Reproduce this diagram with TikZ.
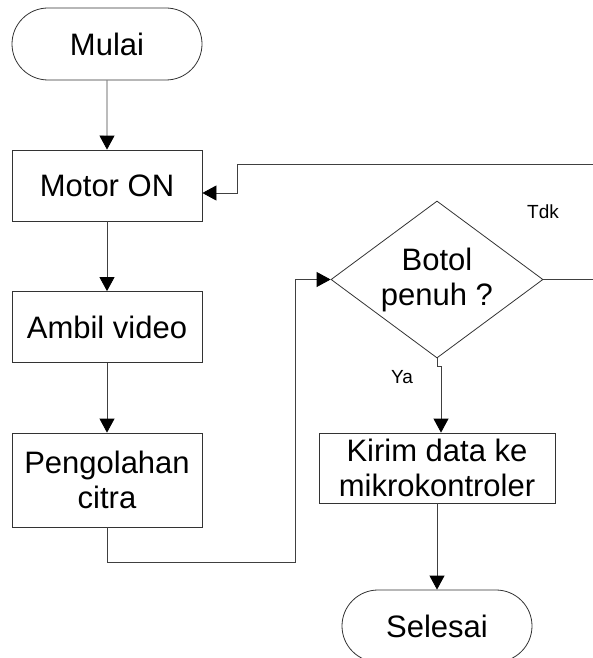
\documentclass[tikz,border=0pt]{standalone}
\usepackage{fontspec}
\setmainfont{Liberation Sans}
\usetikzlibrary{shapes.geometric,shapes.misc,arrows.meta}

\tikzset{
	teks/.style={font=\fontsize{31}{35}\selectfont},
	proses/.style={teks, draw=black!80, rectangle, minimum width=190pt, minimum height=71pt, inner sep=0pt, align=center},
	terminal/.style={teks, draw=black!80, rounded rectangle, minimum width=190pt, minimum height=72pt, inner sep=0pt},
	keputusan/.style={teks, draw=black!80, diamond, aspect=1.35, minimum width=212pt, minimum height=157pt, inner sep=0pt, align=center},
	alir/.style={draw=black!75, -{Triangle[length=14pt,width=15pt,black]}},
	ket/.style={font=\fontsize{19}{22}\selectfont}
}

\begin{document}
\begin{tikzpicture}[x=1pt,y=-1pt,line width=0.8pt]
		\useasboundingbox (0,0) rectangle (592,658);

		% kolom kiri
		\node[terminal] (mulai) at (107,44) {Mulai};
		\node[proses] (motor) at (107,185.5) {Motor ON};
		\node[proses] (ambil) at (107,327) {Ambil video};
		\node[proses, minimum height=94pt] (olah) at (107,480) {Pengolahan\\citra};

		% kolom kanan
		\node[keputusan] (botol) at (437,279.5) {Botol\\penuh ?};
		\node[proses, minimum width=236pt, minimum height=70pt] (kirim) at (437,468) {Kirim data ke\\mikrokontroler};
		\node[terminal] (selesai) at (437,626) {Selesai};

		\node[ket] (tdk) at (543,212) {Tdk};
		\node[ket] (ya) at (402,377) {Ya};

		\coordinate (belok) at (295,562);
		\coordinate (kanan) at (600,164);
		\coordinate (masuk) at (237,193);
		\coordinate (jog) at (441,366);

		\draw[alir] (mulai) -- (motor);
		\draw[alir] (motor) -- (ambil);
		\draw[alir] (ambil) -- (olah);
		\draw[alir] (olah.south) |- (belok) |- (botol.west);
		\draw[alir] (botol.east) -| (kanan) -| (masuk) -- (motor.east |- masuk);
		\draw[alir] (botol.south) |- (jog) -- (jog |- kirim.north);
		\draw[alir] (kirim) -- (selesai);
	\end{tikzpicture}
\end{document}
